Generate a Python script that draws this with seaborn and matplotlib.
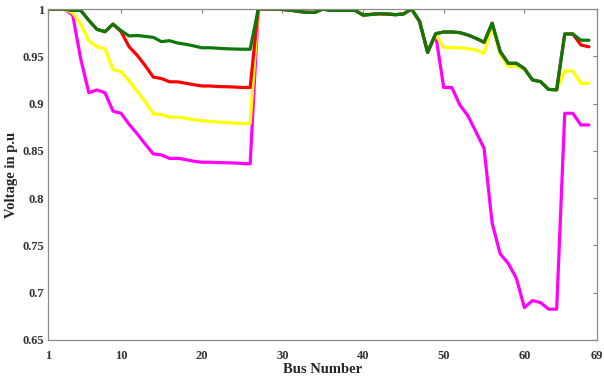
import matplotlib
matplotlib.use("Agg")
import matplotlib.pyplot as plt
import seaborn as sns
import pandas as pd

bus = list(range(1, 69))

v_magenta = [1.0, 1.0, 0.9995, 0.9937, 0.947, 0.9115, 0.9144, 0.9115, 0.892, 0.8897,
             0.878, 0.868, 0.857, 0.8467, 0.8457, 0.842, 0.8421, 0.8408, 0.839, 0.838,
             0.838, 0.8376, 0.8374, 0.8372, 0.8367, 0.8362, 1.0, 1.0, 0.9999, 0.9995,
             0.9988, 0.9975, 0.9965, 0.9964, 1.0, 0.9985, 0.9986, 0.9986, 0.9986, 0.9936,
             0.9943, 0.995, 0.9947, 0.994, 0.9947, 1.0, 0.987, 0.9542, 0.9725, 0.917,
             0.917, 0.8985, 0.887, 0.870, 0.8527, 0.7735, 0.741, 0.731, 0.7153, 0.6843,
             0.6917, 0.6896, 0.6826, 0.6826, 0.8897, 0.8897, 0.8774, 0.8774]

v_yellow = [1.0, 1.0, 0.9995, 0.996, 0.984, 0.9665, 0.960, 0.958, 0.936, 0.9337,
            0.924, 0.913, 0.902, 0.889, 0.8886, 0.8855, 0.8858, 0.8845, 0.883, 0.882,
            0.8811, 0.8805, 0.880, 0.8795, 0.879, 0.8788, 1.0, 1.0, 0.9999, 0.9995,
            0.9988, 0.9975, 0.9965, 0.9964, 1.0, 0.9985, 0.9986, 0.9986, 0.9986, 0.9936,
            0.9943, 0.995, 0.9947, 0.994, 0.9947, 1.0, 0.987, 0.9542, 0.9730, 0.9595,
            0.9592, 0.959, 0.958, 0.9567, 0.953, 0.983, 0.952, 0.939, 0.940, 0.936,
            0.925, 0.9232, 0.915, 0.9145, 0.9345, 0.9345, 0.9215, 0.9215]

v_red = [1.0, 1.0, 0.9999, 0.9985, 0.9985, 0.988, 0.9785, 0.976, 0.984, 0.976,
         0.960, 0.951, 0.940, 0.928, 0.9265, 0.923, 0.923, 0.9215, 0.920, 0.9186,
         0.9186, 0.918, 0.9178, 0.9175, 0.917, 0.917, 1.0, 1.0, 0.9999, 0.9995,
         0.9988, 0.9975, 0.9965, 0.9964, 1.0, 0.9985, 0.9986, 0.9986, 0.9986, 0.9936,
         0.9943, 0.995, 0.9947, 0.994, 0.9947, 1.0, 0.987, 0.9542, 0.9739, 0.9757,
         0.9757, 0.975, 0.9725, 0.969, 0.9648, 0.985, 0.955, 0.9426, 0.9426, 0.937,
         0.925, 0.9232, 0.915, 0.9145, 0.9736, 0.9736, 0.962, 0.960]

v_green = [1.0, 1.0, 0.9999, 0.9985, 0.9985, 0.988, 0.9785, 0.976, 0.984, 0.977,
           0.9715, 0.972, 0.971, 0.970, 0.9655, 0.9665, 0.964, 0.9627, 0.961, 0.959,
           0.959, 0.9585, 0.958, 0.9577, 0.9575, 0.9574, 1.0, 1.0, 0.9999, 0.9995,
           0.9988, 0.9975, 0.9965, 0.9964, 1.0, 0.9985, 0.9986, 0.9986, 0.9986, 0.9936,
           0.9943, 0.995, 0.9947, 0.994, 0.9947, 1.0, 0.987, 0.9542, 0.9739, 0.9757,
           0.9757, 0.975, 0.9725, 0.969, 0.9648, 0.985, 0.955, 0.9426, 0.9426, 0.937,
           0.925, 0.9232, 0.915, 0.9145, 0.9736, 0.9736, 0.967, 0.967]

series_names = ["Magenta", "Yellow", "Red", "Green"]
series_values = [v_magenta, v_yellow, v_red, v_green]
colors = ["#FF00FF", "#FFFF00", "#FF0000", "#0B7A0B"]

x_ticks = [1, 10, 20, 30, 40, 50, 60, 69]
y_ticks = [0.65, 0.7, 0.75, 0.8, 0.85, 0.9, 0.95, 1.0]
y_tick_labels = ["0.65", "0.7", "0.75", "0.8", "0.85", "0.9", "0.95", "1"]

df = pd.concat([pd.DataFrame({"bus": bus, "v": vals, "s": name})
                for name, vals in zip(series_names, series_values)], ignore_index=True)

sns.set_theme(style="white")
plt.rcParams["font.family"] = ["Liberation Serif", "DejaVu Serif"]
plt.rcParams["font.weight"] = "bold"

fig = plt.figure(figsize=(6.04, 3.82), dpi=100)
ax = fig.add_axes([48.5 / 604, 1 - 340 / 382, (597 - 48.5) / 604, (340 - 9) / 382])

sns.lineplot(data=df, x="bus", y="v", hue="s", palette=dict(zip(series_names, colors)),
             linewidth=2.3, legend=False, ax=ax, sort=False)

ax.set_xlim(1, 69)
ax.set_ylim(0.65, 1.0)
ax.set_xticks(x_ticks)
ax.set_xticklabels([str(t) for t in x_ticks])
ax.set_yticks(y_ticks)
ax.set_yticklabels(y_tick_labels)
ax.tick_params(direction="in", length=3, width=0.8, color="#808080",
               labelsize=9, labelcolor="#333333", top=True, right=True)
ax.tick_params(axis="x", pad=7)
ax.tick_params(axis="y", pad=3)
for lab in ax.get_xticklabels() + ax.get_yticklabels():
    lab.set_fontweight("bold")
for sp in ax.spines.values():
    sp.set_color("#8a8a8a")
    sp.set_linewidth(0.9)
ax.set_xlabel("Bus Number", fontsize=10.5, fontweight="bold", labelpad=1)
ax.set_ylabel("Voltage in p.u", fontsize=10.5, fontweight="bold")
ax.yaxis.set_label_coords(-0.056, 0.5)

fig.savefig("out.png", dpi=100)
